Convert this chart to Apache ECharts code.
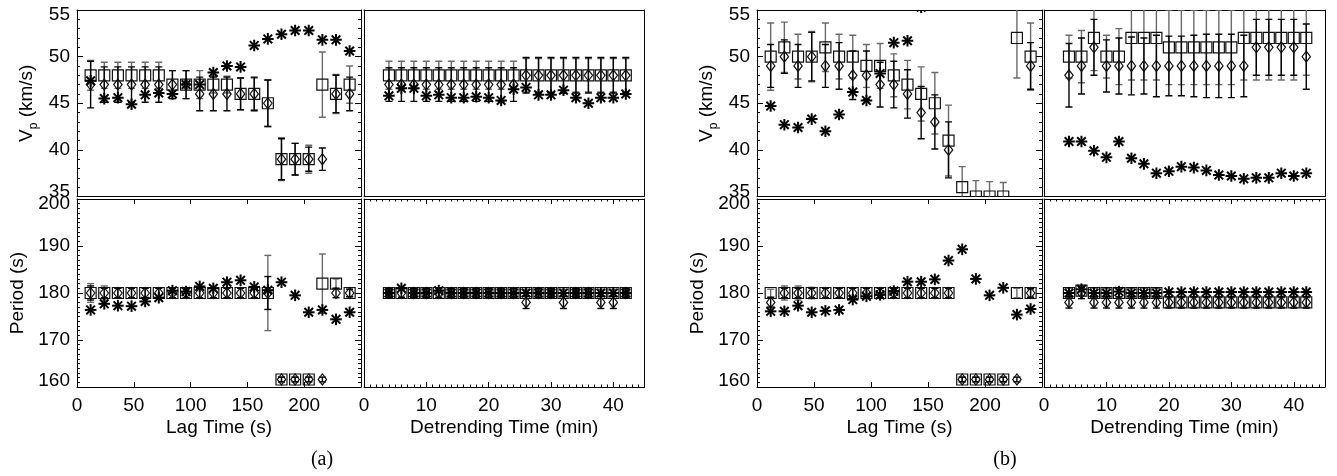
<!DOCTYPE html>
<html><head><meta charset="utf-8">
<script src="https://cdn.jsdelivr.net/npm/echarts@6/dist/echarts.min.js"></script>
<style>html,body{margin:0;padding:0;background:#fff}#c{width:1337px;height:476px}</style>
</head><body><div id="c"></div>
<script>
// ---------------- data ----------------
const lagTime  = [12,24,36,48,60,72,84,96,108,120,132,144,156,168,180,192,204,216,228,240];
const detrTime = [4,6,8,10,12,14,16,18,20,22,24,26,28,30,32,34,36,38,40,42];
const lagTicks = [0,50,100,150,200];
const detrTicks = [0,10,20,30,40];
const vpTicks = [35,40,45,50,55];
const periodTicks = [160,170,180,190,200];

// (a) Vp vs lag time
const aLagVpSq    = [48,48,48,48,48,48,47,47,47,47,47,46,46,45,39,39,39,47,46,47];
const aLagVpSqErr = [1.6,1.4,1.4,1.4,1.4,1.4,1.5,1.5,1.5,0.9,0.9,1.7,1.7,2.5,2.3,1.7,1.5,3.5,2.1,2.0];
const aLagVpDm    = [47,47,47,47,47,47,47,47,46,46,46,46,46,45,39,39,39,39,46,46];
const aLagVpDmErr = [2.5,1.9,1.9,1.9,1.9,1.9,1.5,1.5,1.8,1.8,1.8,1.7,1.8,2.5,2.2,1.7,1.3,1.2,2.0,1.8];
const aLagVpAst   = [47.4,45.5,45.6,44.9,45.9,46.1,46.0,47.0,47.0,48.3,49.0,48.9,51.2,51.9,52.4,52.8,52.8,51.8,51.8,50.6];
// (a) Period vs lag time
const aLagPerSq    = [180,180,180,180,180,180,180,180,180,180,180,180,180,180,161.6,161.6,161.6,182,182,180];
const aLagPerSqErr = [2,1.5,1,1,1,1,1,1,1,1,1,1,1,8,0.5,0.5,0.5,6.3,1,0.8];
const aLagPerDm    = [180,180,180,180,180,180,180,180,180,180,180,180,180,180,161.6,161.6,161.6,161.6,180,180];
const aLagPerDmErr = [1.5,1,1,1,1,1,1,1,1,1,1,1,1,3.5,0.5,0.5,0.5,0.5,1,0.8];
const aLagPerAst   = [176.4,177.7,177.3,177.2,178.2,179.0,180.5,180.3,181.4,181.0,182.3,182.7,181.3,180.6,182.3,179.5,175.9,176.4,174.4,175.9];
// (a) Vp vs detrending time
const aDetVpSq    = [48,48,48,48,48,48,48,48,48,48,48,48,48,48,48,48,48,48,48,48];
const aDetVpSqErr = [1.5,1.5,1.5,1.5,1.5,1.5,1.5,1.5,1.5,1.5,1.5,1.8,1.8,1.8,1.8,1.8,1.8,1.8,1.8,1.8];
const aDetVpDm    = [47,47,47,47,47,47,47,47,47,47,47,48,48,48,48,48,48,48,48,48];
const aDetVpDmErr = [1.8,1.8,1.8,1.8,1.8,1.8,1.8,1.8,1.8,1.8,1.8,1.9,1.9,1.9,1.9,1.9,1.9,1.9,1.9,1.9];
const aDetVpAst   = [45.8,46.6,46.6,45.8,45.9,45.6,45.6,45.7,45.6,45.3,46.5,46.7,45.9,45.9,46.4,45.6,45.0,45.6,45.6,46.0];
// (a) Period vs detrending time
const aDetPerSq    = [180,180,180,180,180,180,180,180,180,180,180,180,180,180,180,180,180,180,180,180];
const aDetPerSqErr = [0.8,0.8,0.8,0.8,0.8,0.8,0.8,0.8,0.8,0.8,0.8,0.8,0.8,0.8,0.8,0.8,0.8,0.8,0.8,0.8];
const aDetPerDm    = [180,180,180,180,180,180,180,180,180,180,180,178,180,180,178,180,180,178,178,180];
const aDetPerDmErr = [1,1,1,1,1,1,1,1,1,1,1,1.3,1,1,1.3,1,1,1.3,1.3,1];
const aDetPerAst   = [180,181,180,180,180.5,180,180,180,180,180,180,180,180,180,180,180,180,180,180,180];

// (b) Vp vs lag time
const bLagVpSq    = [50,51,50,50,51,50,50,49,49,48,47,46,45,41,36,35,35,35,52,50];
const bLagVpSqErr = [3.6,2.7,2.4,2.7,2.6,2.4,2.3,2.3,2.4,2.3,2.6,2.9,3.3,3.8,2.2,1.7,1.6,1.5,4.3,3.6];
const bLagVpDm    = [49,50,49,50,49,49,48,48,47,47,46,44,43,40,null,null,null,null,null,49];
const bLagVpDmErr = [2.3,1.8,2.3,2.6,2.3,2.5,2.6,2.6,2.4,2.5,2.6,2.8,2.9,3.0,0,0,0,0,0,2.5];
const bLagVpAst   = [44.7,42.7,42.4,43.3,42.0,43.8,46.2,45.3,48.2,51.5,51.7,55.3,null,null,null,null,null,null,null,null];
// (b) Period vs lag time
const bLagPerSq    = [180,180,180,180,180,180,180,180,180,180,180,180,180,180,161.6,161.6,161.6,161.6,180,180];
const bLagPerSqErr = [0.8,1.5,1.5,1.2,1,1,1,1,1,1,1,1,1,1,0.5,0.5,0.5,0.5,1,0.8];
const bLagPerDm    = [178,180,180,180,180,180,180,180,180,180,180,180,180,180,161.6,161.6,161.6,161.6,161.6,180];
const bLagPerDmErr = [1,1,1,1,1,1,1,1,1,1,1,1,1,1,0.5,0.5,0.5,0.5,0.5,1];
const bLagPerAst   = [176.1,176.1,177.3,175.9,176.2,176.4,178.6,179.3,179.6,180.4,182.4,182.4,182.9,186.9,189.3,183.0,179.5,181.1,175.4,176.6];
// (b) Vp vs detrending time
const bDetVpSq    = [50,50,52,50,50,52,52,52,51,51,51,51,51,51,52,52,52,52,52,52];
const bDetVpSqErr = [2.3,2.8,3.5,2.3,3.0,4.5,4.5,4.5,4.0,4.0,4.0,4.0,4.0,4.0,4.5,4.5,4.5,4.5,4.5,4.0];
const bDetVpDm    = [48,49,51,49,49,49,49,49,49,49,49,49,49,49,49,51,51,51,51,50];
const bDetVpDmErr = [3.4,3.0,3.0,2.8,3.0,3.1,3.0,3.3,3.2,3.2,3.3,3.4,3.4,3.4,3.3,3.0,3.0,3.0,3.0,3.5];
const bDetVpAst   = [40.9,40.9,39.9,39.2,40.9,39.1,38.5,37.5,37.7,38.2,38.1,37.8,37.3,37.2,36.9,37.0,37.0,37.5,37.2,37.5];
// (b) Period vs detrending time
const bDetPerSq    = [180,180.5,180,180,180,180,180,180,178,178,178,178,178,178,178,178,178,178,178,178];
const bDetPerSqErr = [1,1,1,1,1,1,1,1,1,1,1,1,1,1,1,1,1,1,1,1];
const bDetPerDm    = [178,180,178,178,178,178,178,178,178,178,178,178,178,178,178,178,178,178,178,178];
const bDetPerDmErr = [1.2,1.2,1.2,1.2,1.2,1.2,1.2,1.2,1.2,1.2,1.2,1.2,1.2,1.2,1.2,1.2,1.2,1.2,1.2,1.2];
const bDetPerAst   = [180,180.8,180,180,180.3,180,180,180,180.2,180.2,180.2,180.2,180.2,180.2,180.2,180.2,180.2,180.2,180.2,180.2];

// ---------------- layout ----------------
const panels = [
  {left:77,   top:10,  width:284,   height:186.5, x:'lag', y:'vp',  row:0, col:0, d:[aLagVpSq,aLagVpSqErr,aLagVpDm,aLagVpDmErr,aLagVpAst]},
  {left:77,   top:199, width:284,   height:188,   x:'lag', y:'per', row:1, col:0, d:[aLagPerSq,aLagPerSqErr,aLagPerDm,aLagPerDmErr,aLagPerAst]},
  {left:364,  top:10,  width:280.5, height:186.5, x:'det', y:'vp',  row:0, col:1, d:[aDetVpSq,aDetVpSqErr,aDetVpDm,aDetVpDmErr,aDetVpAst]},
  {left:364,  top:199, width:280.5, height:188,   x:'det', y:'per', row:1, col:1, d:[aDetPerSq,aDetPerSqErr,aDetPerDm,aDetPerDmErr,aDetPerAst]},
  {left:757,  top:10,  width:285,   height:186.5, x:'lag', y:'vp',  row:0, col:0, d:[bLagVpSq,bLagVpSqErr,bLagVpDm,bLagVpDmErr,bLagVpAst]},
  {left:757,  top:199, width:285,   height:188,   x:'lag', y:'per', row:1, col:0, d:[bLagPerSq,bLagPerSqErr,bLagPerDm,bLagPerDmErr,bLagPerAst]},
  {left:1044, top:10,  width:281,   height:186.5, x:'det', y:'vp',  row:0, col:1, d:[bDetVpSq,bDetVpSqErr,bDetVpDm,bDetVpDmErr,bDetVpAst]},
  {left:1044, top:199, width:281,   height:188,   x:'det', y:'per', row:1, col:1, d:[bDetPerSq,bDetPerSqErr,bDetPerDm,bDetPerDmErr,bDetPerAst]}
];

const FONT = '"Liberation Sans", Arial, Helvetica, sans-serif';
const txt = {fontFamily: FONT, fontSize: 19, color: '#000'};
const BLACK = '#000', GRAY = '#6a6a6a';

function pts(xs, ys, errs) {
  const out = [];
  xs.forEach((x, i) => { if (ys[i] != null) out.push([x, ys[i], errs ? (errs[i] || 0) : 0]); });
  return out;
}
function errRender(color) {
  return function (params, api) {
    const x = api.value(0), y = api.value(1), e = api.value(2);
    if (!e) return {type: 'group', children: []};
    const t = api.coord([x, y + e]), b = api.coord([x, y - e]);
    const cx = t[0], hw = 3.5, st = {stroke: color, lineWidth: 1.4};
    return {type: 'group', children: [
      {type: 'line', shape: {x1: cx, y1: t[1], x2: cx, y2: b[1]}, style: st},
      {type: 'line', shape: {x1: cx - hw, y1: t[1], x2: cx + hw, y2: t[1]}, style: st},
      {type: 'line', shape: {x1: cx - hw, y1: b[1], x2: cx + hw, y2: b[1]}, style: st}
    ]};
  };
}
function markRender(kind) {
  return function (params, api) {
    const p = api.coord([api.value(0), api.value(1)]);
    const x = p[0], y = p[1];
    if (kind === 'sq') {
      return {type: 'rect', shape: {x: x - 5.5, y: y - 5.5, width: 11, height: 11},
              style: {fill: 'none', stroke: '#111', lineWidth: 1.2}};
    }
    if (kind === 'dm') {
      return {type: 'polygon', shape: {points: [[x, y - 5.5], [x + 4.2, y], [x, y + 5.5], [x - 4.2, y]]},
              style: {fill: 'none', stroke: '#111', lineWidth: 1.2}};
    }
    const st = {stroke: '#000', lineWidth: 2};
    const r = 5.8, q = 4.3;
    return {type: 'group', children: [
      {type: 'line', shape: {x1: x - r, y1: y, x2: x + r, y2: y}, style: st},
      {type: 'line', shape: {x1: x, y1: y - r, x2: x, y2: y + r}, style: st},
      {type: 'line', shape: {x1: x - q, y1: y - q, x2: x + q, y2: y + q}, style: st},
      {type: 'line', shape: {x1: x - q, y1: y + q, x2: x + q, y2: y - q}, style: st}
    ]};
  };
}

const grids = [], xAxes = [], yAxes = [], series = [];
const tickStyle = {color: '#000', width: 1};
panels.forEach((p, g) => {
  grids.push({left: p.left, top: p.top, width: p.width, height: p.height, show: false});
  const isLag = p.x === 'lag', isVp = p.y === 'vp';
  const bottomRow = p.row === 1, leftCol = p.col === 0;
  const xTicks = isLag ? lagTicks : detrTicks;
  const xMax = isLag ? 250 : 45;
  const xInt = xTicks[1] - xTicks[0];
  const yTicks = isVp ? vpTicks : periodTicks;
  const yInt = yTicks[1] - yTicks[0];
  const line = {show: true, onZero: false, lineStyle: {color: '#000', width: 1}};

  const xBase = {type: 'value', gridIndex: g, min: 0, max: xMax, interval: xInt, axisLine: line, splitLine: {show: false}};
  const xi = xAxes.length;
  xAxes.push(Object.assign({}, xBase, {
    position: 'bottom',
    axisTick: {show: bottomRow, inside: true, length: 5, lineStyle: tickStyle},
    axisLabel: Object.assign({show: bottomRow, margin: 9, formatter: v => xTicks.includes(v) ? String(v) : ''}, txt),
    name: bottomRow ? (isLag ? 'Lag Time (s)' : 'Detrending Time (min)') : '',
    nameLocation: 'middle', nameGap: 31, nameTextStyle: Object.assign({}, txt)
  }));
  xAxes.push(Object.assign({}, xBase, {
    position: 'top',
    axisTick: {show: bottomRow, inside: true, length: 5, lineStyle: tickStyle},
    axisLabel: {show: false}
  }));
  if (!isLag && bottomRow) {
    ['bottom', 'top'].forEach(pos => xAxes.push({
      type: 'value', gridIndex: g, min: 0, max: xMax, interval: 1, position: pos,
      axisLine: {show: false}, splitLine: {show: false}, axisLabel: {show: false},
      axisTick: {show: true, inside: true, length: 2.5, lineStyle: tickStyle}
    }));
  }

  const yBase = {type: 'value', gridIndex: g, min: yTicks[0], max: yTicks[yTicks.length - 1], interval: yInt,
                 axisLine: line, splitLine: {show: false}, minorSplitLine: {show: false}};
  const tk = {show: leftCol, inside: true, length: 6, lineStyle: tickStyle};
  const mtk = {show: leftCol, splitNumber: isVp ? 5 : 10, length: 3, lineStyle: tickStyle};
  const yi = yAxes.length;
  const hiV = yTicks[yTicks.length - 1], loV = yTicks[0];
  yAxes.push(Object.assign({}, yBase, {
    position: 'left', axisTick: tk, minorTick: mtk,
    axisLabel: Object.assign({
      show: leftCol, margin: 7,
      formatter: v => v === hiV ? '{dn|' + v + '}' : (v === loV ? (isVp ? '{up|' + v + '}' : '{up2|' + v + '}') : String(v)),
      rich: {
        dn: Object.assign({padding: [10, 0, 0, 0]}, txt),
        up: Object.assign({padding: [0, 0, 9, 0]}, txt),
        up2: Object.assign({padding: [0, 0, 13, 0]}, txt)
      }
    }, txt),
    name: leftCol ? (isVp ? '{n|V}{sub|p}{n| (km/s)}' : 'Period (s)') : '',
    nameLocation: 'middle', nameRotate: 90, nameGap: isVp ? 37 : 50,
    nameTextStyle: Object.assign({
      rich: {
        n: Object.assign({verticalAlign: 'bottom', padding: [0, 0, 4, 0]}, txt),
        sub: {fontFamily: FONT, fontSize: 12, color: '#000', verticalAlign: 'bottom'}
      }
    }, txt)
  }));
  yAxes.push(Object.assign({}, yBase, {position: 'right', axisTick: tk, minorTick: mtk, axisLabel: {show: false}}));

  const xs = isLag ? lagTime : detrTime;
  const [sq, sqE, dm, dmE, ast] = p.d;
  const base = {type: 'custom', xAxisIndex: xi, yAxisIndex: yi, clip: true, silent: true, animation: false,
                encode: {x: 0, y: 1}};
  series.push(Object.assign({}, base, {data: pts(xs, sq, sqE), renderItem: errRender(GRAY)}));
  series.push(Object.assign({}, base, {data: pts(xs, dm, dmE), renderItem: errRender(BLACK)}));
  series.push(Object.assign({}, base, {data: pts(xs, sq), renderItem: markRender('sq')}));
  series.push(Object.assign({}, base, {data: pts(xs, dm), renderItem: markRender('dm')}));
  series.push(Object.assign({}, base, {data: pts(xs, ast), renderItem: markRender('ast')}));
});

const chart = echarts.init(document.getElementById('c'), null, {renderer: 'canvas'});
chart.setOption({
  backgroundColor: '#fff',
  animation: false,
  grid: grids, xAxis: xAxes, yAxis: yAxes, series: series,
  graphic: [
    {type: 'text', x: 322, y: 460, style: {text: '(a)', fontFamily: '"Liberation Serif", "Times New Roman", serif', fontSize: 20, fill: '#000', align: 'center', verticalAlign: 'middle', textAlign: 'center', textVerticalAlign: 'middle'}},
    {type: 'text', x: 1005, y: 460, style: {text: '(b)', fontFamily: '"Liberation Serif", "Times New Roman", serif', fontSize: 20, fill: '#000', align: 'center', verticalAlign: 'middle', textAlign: 'center', textVerticalAlign: 'middle'}}
  ]
});
</script>
</body></html>
